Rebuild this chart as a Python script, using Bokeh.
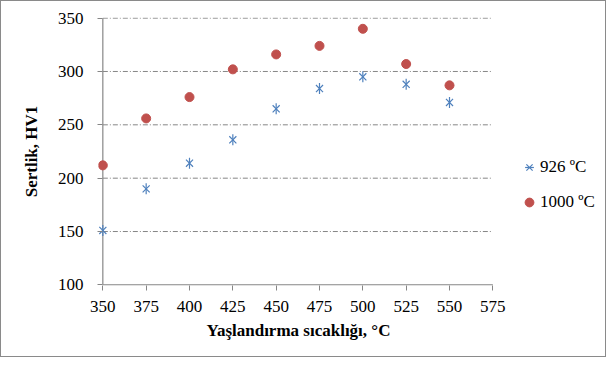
import math
from bokeh.plotting import figure
from bokeh.models import FixedTicker, Range1d, Legend, LegendItem, ColumnDataSource, Title
from bokeh.embed import file_html
from bokeh.resources import INLINE

temps = [350, 375, 400, 425, 450, 475, 500, 525, 550]
hv_926 = [151, 190, 214, 236, 265, 284, 295, 288, 271]
hv_1000 = [212, 256, 276, 302, 316, 324, 340, 307, 287]
x_ticks = [350, 375, 400, 425, 450, 475, 500, 525, 550, 575]
y_ticks = [100, 150, 200, 250, 300, 350]
series_names = ["926 ºC", "1000 ºC"]
x_title = "Yaşlandırma sıcaklığı, °C"
y_title = "Sertlik, HV1"

FONT = "Liberation Serif"
GRAY = "#868686"
BLUE = "#4F81BD"
RED = "#C0504D"

# frame is a bit wider than the axis extent (left pad so edge markers are not
# clipped, right part hosts the legend); axis extent keeps 390 px
LEFT, AXIS_W, FRAME_W, PAD = 97, 390, 503, 2.5
scale = AXIS_W / (x_ticks[-1] - x_ticks[0])
x_start = x_ticks[0] - PAD
x_end = x_start + FRAME_W / scale

p = figure(width=606, height=357, output_backend="svg", toolbar_location=None,
           x_range=Range1d(x_start, x_end), y_range=Range1d(99.4, 350.6),
           min_border_left=LEFT, min_border_right=606 - LEFT - FRAME_W,
           min_border_top=16, min_border_bottom=73)
p.outline_line_color = None
p.background_fill_color = "white"
p.border_fill_color = "white"
p.styles = {"border": "1px solid #8a8a8a"}

# horizontal gridlines, x baseline and y axis line, spanning only the axis extent
n = len(y_ticks)
p.segment(x0=[x_ticks[0]] * (n - 1), x1=[x_ticks[-1]] * (n - 1), y0=y_ticks[1:], y1=y_ticks[1:],
          line_color=GRAY, line_width=1, line_dash="5 2 1 2")
p.segment(x0=[x_ticks[0]], x1=[x_ticks[-1]], y0=[y_ticks[0]], y1=[y_ticks[0]],
          line_color=GRAY, line_width=1.2)
p.segment(x0=[x_ticks[0]], x1=[x_ticks[0]], y0=[y_ticks[0]], y1=[y_ticks[-1]],
          line_color=GRAY, line_width=1.2)

src1 = ColumnDataSource(dict(x=temps, y=hv_926))
src2 = ColumnDataSource(dict(x=temps, y=hv_1000))
r1a = p.scatter("x", "y", source=src1, marker="x", size=10, line_color=BLUE, line_width=1.2)
r1b = p.scatter("x", "y", source=src1, marker="dash", size=11, angle=math.pi / 2,
                line_color=BLUE, line_width=1.2)
r2 = p.scatter("x", "y", source=src2, marker="circle", size=9, fill_color=RED, line_color=RED)

for ax in (p.xaxis[0], p.yaxis[0]):
    ax.axis_line_color = None
    ax.major_tick_line_color = GRAY
    ax.minor_tick_line_color = None
    ax.major_label_text_font = FONT
    ax.major_label_text_font_size = "17px"
    ax.major_label_text_color = "#000000"
    ax.axis_label_text_font = FONT
    ax.axis_label_text_font_size = "17px"
    ax.axis_label_text_font_style = "bold"
    ax.axis_label_text_color = "#000000"

p.xaxis.major_tick_in = 0
p.xaxis.major_tick_out = 5
p.yaxis.major_tick_out = 1
p.yaxis.major_tick_in = 4
p.xaxis.ticker = FixedTicker(ticks=x_ticks)
p.yaxis.ticker = FixedTicker(ticks=y_ticks)
p.yaxis.axis_label = y_title
p.xaxis.major_label_standoff = 10
p.yaxis.major_label_standoff = 14
p.yaxis.axis_label_standoff = 14

p.add_layout(Title(text=x_title, align="left", offset=108, standoff=9,
                   text_font=FONT, text_font_size="17px", text_font_style="bold",
                   text_color="#000000"), "below")

p.xgrid.grid_line_color = None
p.ygrid.grid_line_color = None

legend = Legend(items=[LegendItem(label=series_names[0], renderers=[r1a, r1b]),
                       LegendItem(label=series_names[1], renderers=[r2])],
                location=(420, 72), orientation="vertical",
                padding=0, margin=0, spacing=13, glyph_width=22, glyph_height=22,
                label_height=22, label_standoff=0,
                label_text_font=FONT, label_text_font_size="17px",
                label_text_color="#000000",
                border_line_color=None, background_fill_alpha=0)
p.add_layout(legend, "center")

open("out.html", "w").write(file_html(p, INLINE))
